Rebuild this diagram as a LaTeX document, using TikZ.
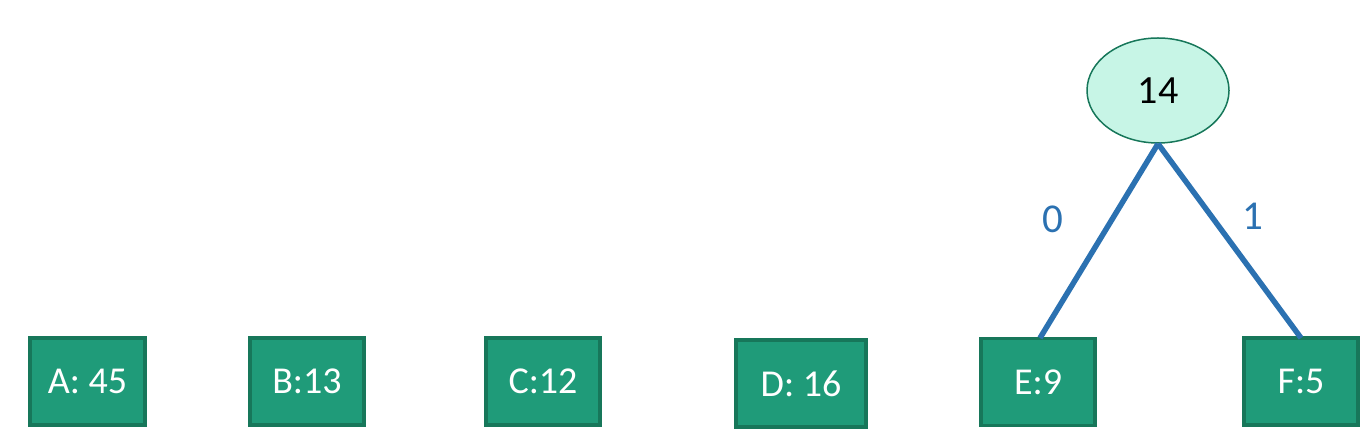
\documentclass[tikz,border=0pt]{standalone}
\usepackage{fontspec}
\setmainfont{Carlito}
\usetikzlibrary{shapes.geometric}
\definecolor{boxfill}{HTML}{1F9B79}
\definecolor{boxdraw}{HTML}{17775A}
\definecolor{ellfill}{HTML}{C7F5E6}
\definecolor{edgeblue}{HTML}{2B71B1}
\tikzset{
  leaf/.style={rectangle, draw=boxdraw, fill=boxfill, line width=3.5pt, minimum height=87pt, text=white, font=\fontsize{38}{42}\selectfont, inner sep=0pt},
  inner/.style={ellipse, draw=boxdraw, fill=ellfill, line width=1.5pt, minimum width=142pt, minimum height=105pt, inner sep=0pt, font=\fontsize{40}{44}\selectfont},
  edge/.style={draw=edgeblue, line width=5.5pt},
  elabel/.style={text=edgeblue, font=\fontsize{41}{45}\selectfont}
}
\begin{document}
\begin{tikzpicture}[x=1pt,y=1pt]
\useasboundingbox (0,0) rectangle (1372,438);
\node[leaf, minimum width=115pt] (A) at (87.5,56.5) {A: 45};
\node[leaf, minimum width=114pt] (B) at (307,56.5) {B:13};
\node[leaf, minimum width=114pt] (C) at (543,56.5) {C:12};
\node[leaf, minimum width=130pt] (D) at (801,54.5) {D: 16};
\node[leaf, minimum width=114pt] (E) at (1038,56) {E:9};
\node[leaf, minimum width=114pt] (F) at (1301,56.5) {F:5};
\node[inner] (R) at (1158,347.5) {14};
\coordinate (Ea) at (1040,100);
\coordinate (Fa) at (1301,100);
\draw[edge] (R.south) -- (Ea);
\draw[edge] (R.south) -- (Fa);
\node[elabel] (l0) at (1053,219) {0};
\node[elabel] (l1) at (1253,222) {1};
\end{tikzpicture}
\end{document}
